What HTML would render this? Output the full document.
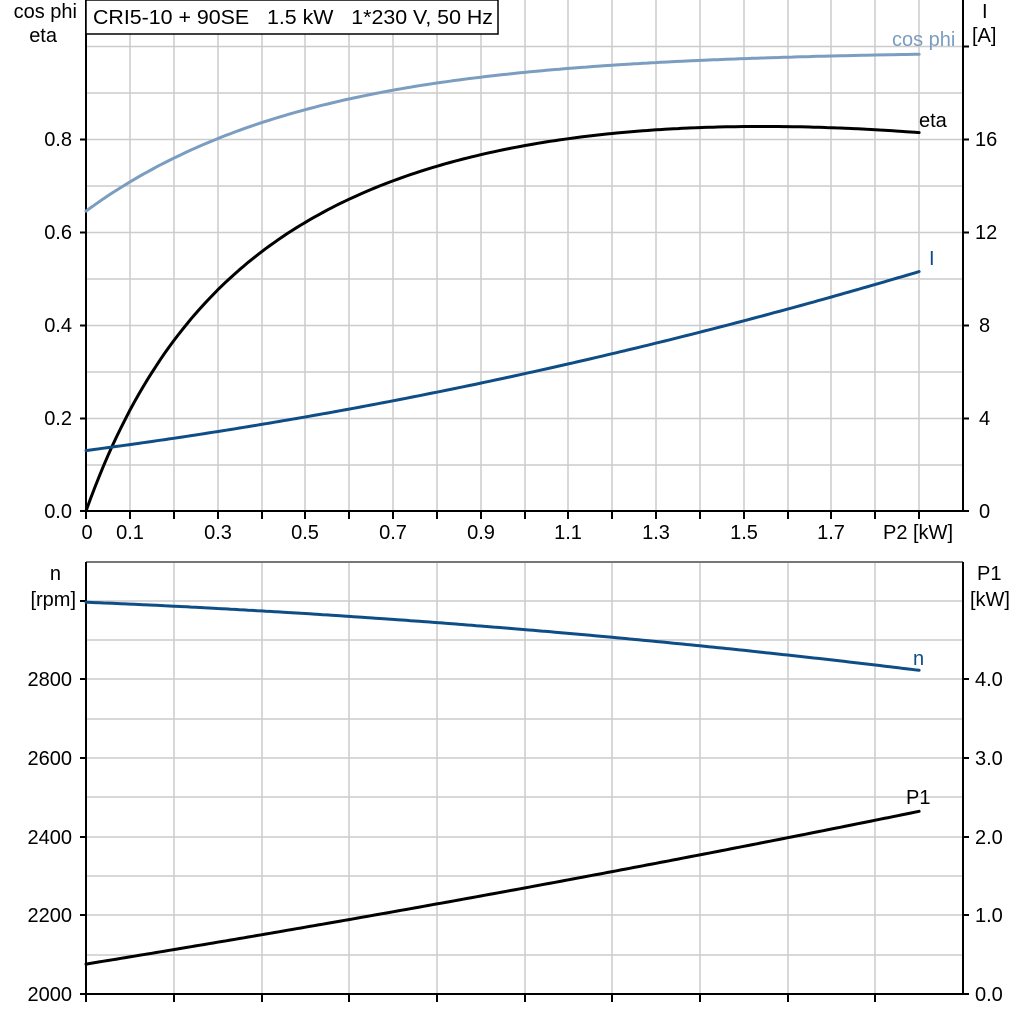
<!DOCTYPE html><html><head><style>body{margin:0;background:#fff}svg{display:block}text{font-family:"Liberation Sans",sans-serif;font-size:20px;fill:#000;white-space:pre}</style></head><body>
<svg id="s" width="1024" height="1024" viewBox="0 0 1024 1024">
<g stroke="#cccccc" stroke-width="1.5" fill="none">
<path d="M130 0V511M174 0V511M218 0V511M262 0V511M305 0V511M349 0V511M393 0V511M437 0V511M481 0V511M525 0V511M568 0V511M612 0V511M656 0V511M700 0V511M744 0V511M788 0V511M831 0V511M875 0V511M919 0V511"/>
<path d="M86 46.5H963M86 93H963M86 139.5H963M86 186H963M86 232.5H963M86 279H963M86 325.5H963M86 372H963M86 418.5H963M86 465H963"/>
<path d="M174 562V994M262 562V994M349 562V994M437 562V994M525 562V994M612 562V994M700 562V994M788 562V994M875 562V994"/>
<path d="M86 601H963M86 640H963M86 679H963M86 719H963M86 758H963M86 797H963M86 837H963M86 876H963M86 915H963M86 955H963"/>
</g>
<path d="M86 562H963" stroke="#777" stroke-width="2"/>
<g stroke="#000" stroke-width="2" fill="none">
<path d="M86 0V511H963V0"/>
<path d="M86 562V994H963V562"/>
<path d="M80 511H86M80 418.5H86M80 325.5H86M80 232.5H86M80 139.5H86M963 511H969M963 418.5H969M963 325.5H969M963 232.5H969M963 139.5H969M963 46.5H969"/>
<path d="M86 511V519M130 511V519M174 511V519M218 511V519M262 511V519M305 511V519M349 511V519M393 511V519M437 511V519M481 511V519M525 511V519M568 511V519M612 511V519M656 511V519M700 511V519M744 511V519M788 511V519M831 511V519M875 511V519M919 511V519"/>
<path d="M80 994H86M80 915H86M80 837H86M80 758H86M80 679H86M80 601H86M963 994H969M963 915H969M963 837H969M963 758H969M963 679H969"/>
<path d="M86 994V1002M174 994V1002M262 994V1002M349 994V1002M437 994V1002M525 994V1002M612 994V1002M700 994V1002M788 994V1002M875 994V1002"/>
</g>
<rect x="86" y="0" width="412" height="34" fill="#fff" stroke="#000" stroke-width="1.5"/>
<text x="93" y="24" textLength="400" lengthAdjust="spacingAndGlyphs" xml:space="preserve">CRI5-10 + 90SE   1.5 kW   1*230 V, 50 Hz</text>
<g id="curves" fill="none" stroke-width="3" stroke-linejoin="round" stroke-linecap="round">
<polyline id="c1" stroke="#7a9dc0" points="86,212 130,185 218,140 305,108 393,88 481,75 568,67 656,61 744,57 831,55 919,53"/>
<polyline id="c2" stroke="#000" points="86,511 108,456 130,417 174,341 218,290 305,225 393,181 481,155 568,139 656,131 744,128 831,129 919,132"/>
<polyline id="c3" stroke="#0e4d85" points="86,452 262,425 437,394 612,355 788,310 919,272"/>
<polyline id="c4" stroke="#0e4d85" points="86,602 262,613 437,626 612,639 788,656 919,670"/>
<polyline id="c5" stroke="#000" points="86,964 305,927 481,899 656,863 831,829 919,811"/>
</g>
<text x="892" y="46" style="fill:#7a9dc0">cos phi</text>
<text x="919" y="127">eta</text>
<text x="929" y="265" style="fill:#0e4d85">I</text>
<text x="913" y="665" style="fill:#0e4d85">n</text>
<text x="906" y="804">P1</text>
<g text-anchor="end">
<text x="77" y="18">cos phi</text>
<text x="57" y="42">eta</text>
<text x="72" y="146">0.8</text><text x="72" y="239">0.6</text><text x="72" y="332">0.4</text><text x="72" y="425">0.2</text><text x="72" y="518">0.0</text>
<text x="61" y="580">n</text><text x="76" y="606">[rpm]</text>
<text x="72" y="686">2800</text><text x="72" y="765">2600</text><text x="72" y="844">2400</text><text x="72" y="922">2200</text><text x="72" y="1001">2000</text>
</g>
<g>
<text x="982" y="18">I</text><text x="972" y="42">[A]</text>
<text x="975" y="146">16</text><text x="975" y="239">12</text><text x="979" y="332">8</text><text x="979" y="425">4</text><text x="979" y="518">0</text>
<text x="977" y="580">P1</text><text x="970" y="606">[kW]</text>
<text x="975" y="686">4.0</text><text x="975" y="765">3.0</text><text x="975" y="844">2.0</text><text x="975" y="922">1.0</text><text x="975" y="1001">0.0</text>
</g>
<g text-anchor="middle">
<text x="87" y="539">0</text><text x="130" y="539">0.1</text><text x="218" y="539">0.3</text><text x="305" y="539">0.5</text><text x="393" y="539">0.7</text><text x="481" y="539">0.9</text><text x="568" y="539">1.1</text><text x="656" y="539">1.3</text><text x="744" y="539">1.5</text><text x="831" y="539">1.7</text><text x="918" y="539">P2 [kW]</text>
</g>
</svg>
<script>
var X=function(p){return 86+438.5*p};
var F={
c1:function(p){return 511-465*(0.99-0.345*Math.exp(-p/0.5))},
c2:function(p){return 511-465*(1.212*p/(p+0.459)-0.045*p*p)},
c3:function(p){return 511-23.25*(2.6+2.475*p+0.83*p*p)},
c4:function(p){return 994-0.39375*(995-45.6*p-23.9*p*p)},
c5:function(p){return 994-78.75*(0.38+0.906*p+0.0605*p*p)}};
for(var k in F){var pl=document.getElementById(k),pts=[];
for(var i=0;i<=190;i++){var p=i/100;pts.push(X(p).toFixed(1)+','+F[k](p).toFixed(1));}
pl.setAttribute('points',pts.join(' '));}
</script>
</body></html>
